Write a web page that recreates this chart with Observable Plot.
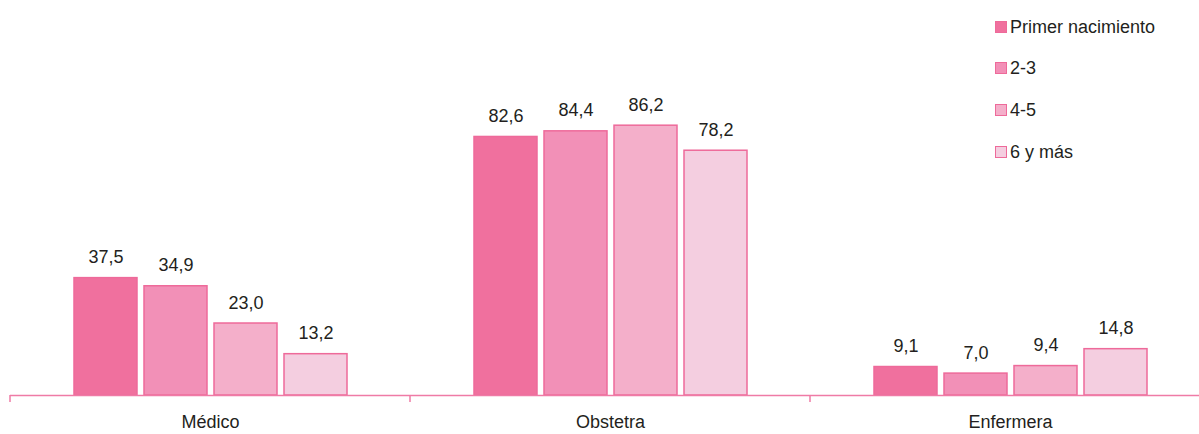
<!DOCTYPE html>
<html>
<head>
<meta charset="utf-8">
<script src="https://cdn.jsdelivr.net/npm/d3@7"></script>
<script src="https://cdn.jsdelivr.net/npm/@observablehq/plot@0.6"></script>
<style>
  body { margin: 0; background: #fff; }
  #wrap { position: relative; width: 1199px; height: 434px; font-family: "Liberation Sans", Arial, sans-serif; }
  #legend { position: absolute; left: 995px; top: 0; }
  .item { position: absolute; left: 0; display: flex; align-items: center; white-space: nowrap; font-size: 18px; color: #231F20; height: 24px; }
  .sw { width: 10px; height: 10px; border: 1.5px solid #EE6A9A; margin-right: 3px; }
</style>
</head>
<body>
<div id="wrap"><div id="legend"></div></div>
<script>
const categories = ["Médico", "Obstetra", "Enfermera"];
const series = ["Primer nacimiento", "2-3", "4-5", "6 y más"];
const primerNacimiento = [37.5, 82.6, 9.1];
const dosTres = [34.9, 84.4, 7.0];
const cuatroCinco = [23.0, 86.2, 9.4];
const seisYMas = [13.2, 78.2, 14.8];
const colors = ["#F0709E", "#F290B7", "#F4AFCA", "#F4CEE0"];

const seriesValues = [primerNacimiento, dosTres, cuatroCinco, seisYMas];
const data = categories.flatMap((c, i) => series.map((s, j) => ({cat: c, ser: s, value: seriesValues[j][i]})));

const font = '"Liberation Sans", Arial, sans-serif';
const chart = Plot.plot({
  width: 1199,
  height: 434,
  marginLeft: 10,
  marginRight: -11,
  marginTop: 82,
  marginBottom: 39,
  style: {fontFamily: font, color: "#231F20", background: "transparent"},
  fx: {domain: categories, padding: 0, label: null},
  x: {domain: series, paddingInner: 0.106, paddingOuter: 0.894, axis: null},
  y: {domain: [0, 100], axis: null},
  color: {domain: series, range: colors},
  marks: [
    Plot.barY(data, {fx: "cat", x: "ser", y: "value", fill: "ser", stroke: "#EE6A9A", strokeWidth: 1.5}),
    Plot.text(data, {fx: "cat", x: "ser", y: "value", text: d => d.value.toFixed(1).replace(".", ","), lineAnchor: "bottom", dy: -15, fontSize: 18, fill: "#231F20"}),
    Plot.ruleY([0], {stroke: "#EF7BA6", strokeWidth: 1.5}),
    Plot.axisFx({anchor: "bottom", tickSize: 0, tickPadding: 20, fontSize: 18, label: null})
  ]
});
document.getElementById("wrap").prepend(chart);

// group boundary ticks via the library's scales
const fx = chart.scale("fx");
const y = chart.scale("y");
const y0 = y.apply(0);
const svg = d3.select(chart);
categories.forEach(c => {
  const x0 = fx.apply(c);
  svg.append("line").attr("x1", x0).attr("x2", x0).attr("y1", y0).attr("y2", y0 + 7)
    .attr("stroke", "#EF7BA6").attr("stroke-width", 1.5);
});

// legend
const legend = document.getElementById("legend");
const rowTops = [15, 56, 98, 140];
series.forEach((s, i) => {
  const it = document.createElement("div");
  it.className = "item";
  it.style.top = rowTops[i] + "px";
  const sw = document.createElement("div");
  sw.className = "sw";
  sw.style.background = colors[i];
  const tx = document.createElement("span");
  tx.textContent = s;
  it.append(sw, tx);
  legend.append(it);
});
</script>
</body>
</html>
